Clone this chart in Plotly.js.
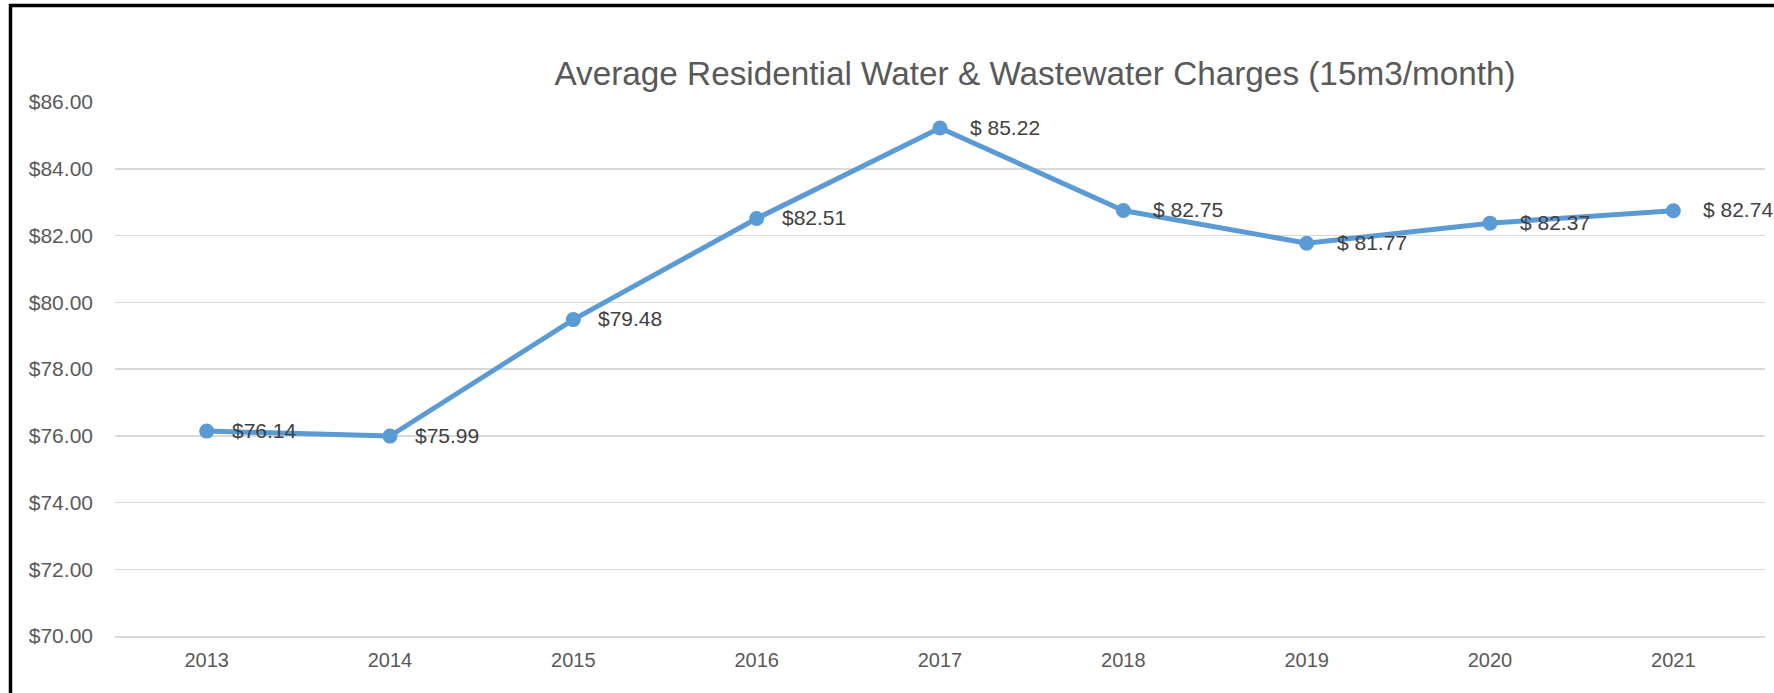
<!DOCTYPE html>
<html>
<head>
<meta charset="utf-8">
<script src="https://cdn.plot.ly/plotly-3.0.1.min.js"></script>
<style>
  html, body { margin: 0; padding: 0; background: #ffffff; }
  #chart { width: 1774px; height: 693px; }
</style>
</head>
<body>
<div id="chart"></div>
<script>
const years = ["2013", "2014", "2015", "2016", "2017", "2018", "2019", "2020", "2021"];
const charges = [76.14, 75.99, 79.48, 82.51, 85.22, 82.75, 81.77, 82.37, 82.74];
const chargeLabels = ["$76.14", "$75.99", "$79.48", "$82.51", "$ 85.22", "$ 82.75", "$ 81.77", "$ 82.37", "$ 82.74"];
const yTickVals = [70, 72, 74, 76, 78, 80, 82, 84, 86];
const yTickText = ["$70.00", "$72.00", "$74.00", "$76.00", "$78.00", "$80.00", "$82.00", "$84.00", "$86.00"];
const chartTitle = "Average Residential Water & Wastewater Charges (15m3/month)";

const FONT = "'Liberation Sans', Arial, sans-serif";

const L = 115, R = 9, T = 102, B = 57;
const W = 1774, H = 693;
const pw = W - L - R, ph = H - T - B;
// frame position in pixels -> paper coords
const fx0 = (10.5 - L) / pw, fx1 = (W + 20 - L) / pw;
const fy1 = (H - B - 5.5) / ph, fy0 = (H - B - (H + 20)) / ph;

const trace = {
  type: "scatter",
  mode: "lines+markers",
  x: years,
  y: charges,
  line: { color: "#5B9BD5", width: 5 },
  marker: { color: "#5B9BD5", size: 15 },
  cliponaxis: false,
  hoverinfo: "x+y"
};

// data labels (accounting-format labels carry extra left padding);
// on a category axis the annotation x is the category's index
const labelAnnotations = years.map((yr, i) => ({
  x: i,
  y: charges[i],
  xref: "x",
  yref: "y",
  text: chargeLabels[i],
  showarrow: false,
  xanchor: "left",
  yanchor: "middle",
  xshift: chargeLabels[i].startsWith("$ ") ? 28 : 23,
  yshift: 1,
  font: { family: FONT, size: 21, color: "#404040" }
}));

const layout = {
  width: W,
  height: H,
  margin: { l: L, r: R, t: T, b: B, pad: 0 },
  paper_bgcolor: "#ffffff",
  plot_bgcolor: "#ffffff",
  showlegend: false,
  title: {
    text: chartTitle,
    font: { family: FONT, size: 33.3, color: "#595959" },
    xref: "container",
    yref: "container",
    x: 1035 / W,
    xanchor: "center",
    y: 1 - 73 / H,
    yanchor: "middle"
  },
  xaxis: {
    type: "category",
    range: [-0.5, 8.5],
    showgrid: false,
    zeroline: false,
    showline: true,
    linecolor: "#D9D9D9",
    linewidth: 1.5,
    ticks: "",
    tickfont: { family: FONT, size: 20, color: "#595959" },
    ticklabelstandoff: 5
  },
  yaxis: {
    range: [70, 86],
    tickvals: yTickVals,
    ticktext: yTickText,
    showgrid: true,
    gridcolor: "#D9D9D9",
    gridwidth: 1.5,
    zeroline: false,
    showline: false,
    ticks: "",
    tickfont: { family: FONT, size: 21, color: "#595959" },
    ticklabelstandoff: 21
  },
  annotations: labelAnnotations,
  shapes: [
    {
      type: "rect",
      xref: "paper", yref: "paper",
      x0: fx0, x1: fx1, y0: fy0, y1: fy1,
      line: { color: "#000000", width: 3.5 },
      fillcolor: "rgba(0,0,0,0)",
      layer: "above"
    }
  ]
};

Plotly.newPlot("chart", [trace], layout, { displayModeBar: false, staticPlot: true });
</script>
</body>
</html>
